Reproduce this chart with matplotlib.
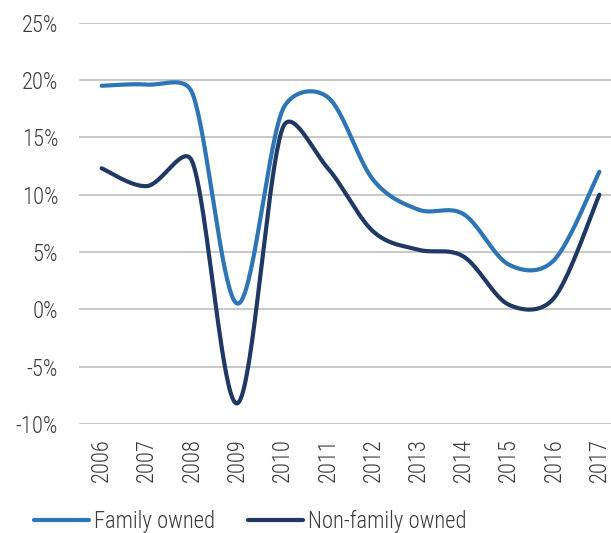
import numpy as np
import matplotlib
matplotlib.use("Agg")
import matplotlib.pyplot as plt
from matplotlib import font_manager as fm
from matplotlib.ticker import FuncFormatter, MultipleLocator

years = ["2006", "2007", "2008", "2009", "2010", "2011",
         "2012", "2013", "2014", "2015", "2016", "2017"]
family_owned = [19.5, 19.6, 18.9, 0.5, 17.4, 18.5, 11.3, 8.7, 8.3, 3.9, 4.3, 12.0]
non_family_owned = [12.3, 10.75, 12.9, -8.2, 15.8, 12.3, 6.8, 5.2, 4.6, 0.4, 1.0, 10.0]

installed = {f.name for f in fm.fontManager.ttflist}
family = 'Liberation Sans'
for cand in ['Roboto Condensed', 'Liberation Sans Narrow', 'Open Sans Condensed', 'Roboto', 'Liberation Sans']:
    if cand in installed:
        family = cand
        break
plt.rcParams['font.family'] = [family, 'DejaVu Sans']
plt.rcParams['font.weight'] = 'light'
TEXT = '#3b3b3b'
C_FAM = '#2E75B6'
C_NON = '#1F3864'

# screen scale (pixels per data unit) used only for smoothing shape
SX, SY = 45.25, 11.47


def smooth(xs, ys, n=40, lim_frac=0.42):
    """Excel-like smoothed line: cubic Bezier with 1/6 tangents, arms limited by segment length."""
    P = np.column_stack([np.asarray(xs, float) * SX, np.asarray(ys, float) * SY])
    pts = []
    m = len(P)
    for i in range(m - 1):
        p0 = P[i - 1] if i > 0 else P[i]
        p1 = P[i]
        p2 = P[i + 1]
        p3 = P[i + 2] if i + 2 < m else P[i + 1]
        seg = np.linalg.norm(p2 - p1)
        a1 = (p2 - p0) / 6.0
        a2 = (p3 - p1) / 6.0
        lim = seg * lim_frac
        if np.linalg.norm(a1) > lim:
            a1 = a1 * lim / np.linalg.norm(a1)
        if np.linalg.norm(a2) > lim:
            a2 = a2 * lim / np.linalg.norm(a2)
        c1 = p1 + a1
        c2 = p2 - a2
        t = np.linspace(0, 1, n, endpoint=(i == m - 2))[:, None]
        b = ((1 - t) ** 3) * p1 + 3 * ((1 - t) ** 2) * t * c1 + 3 * (1 - t) * t ** 2 * c2 + t ** 3 * p2
        pts.append(b)
    pts = np.vstack(pts)
    return pts[:, 0] / SX, pts[:, 1] / SY


fig = plt.figure(figsize=(6.11, 5.33), dpi=100)
ax = fig.add_axes([79 / 611, 1 - 424 / 533, (622 - 79) / 611, (424 - 22.7) / 533])

x = np.arange(len(years))
xf, yf = smooth(x, family_owned)
xn, yn = smooth(x, non_family_owned)
ax.plot(xf, yf, color=C_FAM, lw=3.0, solid_capstyle='round', label='Family owned', zorder=3)
ax.plot(xn, yn, color=C_NON, lw=3.0, solid_capstyle='round', label='Non-family owned', zorder=3)

ax.set_xlim(-0.5, len(years) - 0.5)
ax.set_ylim(-10, 25)
ax.yaxis.set_major_locator(MultipleLocator(5))
ax.yaxis.set_major_formatter(FuncFormatter(lambda v, p: f"{v:.0f}%"))
ax.set_xticks(x)
ax.set_xticklabels(years, rotation=90, va='top', ha='center')
ax.grid(axis='y', color='#bfbfbf', lw=1.2)
ax.set_axisbelow(True)
for s in ax.spines.values():
    s.set_visible(False)
ax.tick_params(axis='both', length=0, labelsize=16.3, colors=TEXT)
ax.tick_params(axis='x', pad=10)
ax.tick_params(axis='y', pad=15)

leg = fig.legend(loc='center left', bbox_to_anchor=(34 / 611, 1 - 521 / 533), ncol=2,
                 frameon=False, fontsize=16.3, handlelength=2.45, handletextpad=0.2,
                 columnspacing=1.45, borderpad=0, borderaxespad=0)
for t in leg.get_texts():
    t.set_color(TEXT)

fig.savefig('out.png', dpi=100)
